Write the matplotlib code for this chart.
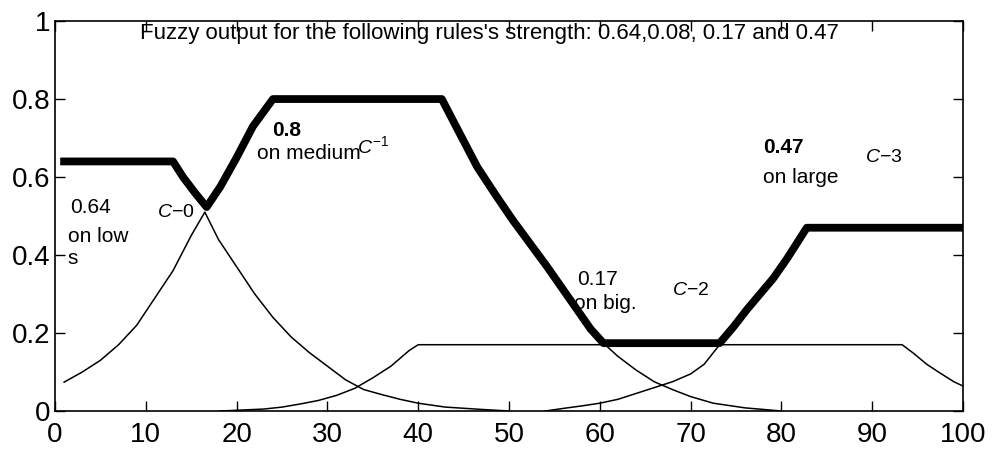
import matplotlib
matplotlib.use("Agg")
from matplotlib import pyplot as plt

plt.rcParams['font.family'] = ['Liberation Sans', 'DejaVu Sans']
plt.rcParams['mathtext.fontset'] = 'custom'
plt.rcParams['mathtext.it'] = 'Liberation Sans:italic'
plt.rcParams['mathtext.rm'] = 'Liberation Sans'

# aggregated fuzzy output (thick line)
out_x = [1, 13, 14.1, 15.4, 16.7, 18.2, 20, 21.8, 24, 42.6, 44.5, 46.5, 48.5,
         50.4, 52.3, 54.2, 56, 57.8, 59, 60.4, 73.2, 74.7, 76.2, 79.1, 80.6,
         82.8, 100]
out_y = [0.64, 0.64, 0.60, 0.56, 0.523, 0.575, 0.65, 0.73, 0.80, 0.80, 0.715,
         0.626, 0.555, 0.49, 0.43, 0.37, 0.31, 0.25, 0.21, 0.174, 0.174, 0.215,
         0.26, 0.34, 0.39, 0.47, 0.47]

# membership "low" (C-0)
low_x = [1, 3, 5, 7, 9, 11, 13, 15, 16.5, 18, 20, 22, 24, 26, 28, 30, 32, 34,
         36, 38, 40, 43, 47, 50]
low_y = [0.074, 0.10, 0.13, 0.17, 0.22, 0.29, 0.36, 0.45, 0.51, 0.44, 0.37,
         0.30, 0.24, 0.19, 0.15, 0.115, 0.08, 0.055, 0.042, 0.03, 0.02, 0.01,
         0.004, 0.0]

# membership clipped at 0.17 (trapezoid)
trap_x = [18.2, 23, 25, 27, 29, 31, 33, 35, 37, 39, 40, 93.3, 94.5, 96, 97.5,
          99, 100]
trap_y = [0.0, 0.005, 0.01, 0.018, 0.027, 0.04, 0.058, 0.085, 0.115, 0.155,
          0.17, 0.17, 0.149, 0.12, 0.097, 0.075, 0.064]

# tail of "big" (C-2)
big_x = [60.4, 62, 64, 66, 68, 70, 72.5, 76, 80]
big_y = [0.174, 0.14, 0.105, 0.075, 0.055, 0.037, 0.02, 0.008, 0.0]

# foot of "large" (C-3)
large_x = [54, 56.4, 58, 60, 62, 64, 66, 68, 70, 71.5, 73.2]
large_y = [0.0, 0.008, 0.013, 0.02, 0.03, 0.045, 0.06, 0.075, 0.095, 0.12, 0.17]

x_ticks = [0, 10, 20, 30, 40, 50, 60, 70, 80, 90, 100]
y_ticks = [0, 0.2, 0.4, 0.6, 0.8, 1]
y_labels = ['0', '0.2', '0.4', '0.6', '0.8', '1']

title = "Fuzzy output for the following rules's strength: 0.64,0.08, 0.17 and 0.47"

fig = plt.figure(figsize=(9.95, 4.55), dpi=100)
ax = fig.add_axes([0.0553, 0.0967, 0.9125, 0.857])

for cx, cy in [(low_x, low_y), (trap_x, trap_y), (big_x, big_y), (large_x, large_y)]:
    ax.plot(cx, cy, color='black', lw=1.1)
ax.plot(out_x, out_y, color='black', lw=5.6, solid_joinstyle='round')

ax.set_xlim(0, 100)
ax.set_ylim(0, 1)
ax.set_xticks(x_ticks)
ax.set_yticks(y_ticks)
ax.set_yticklabels(y_labels)
ax.tick_params(direction='in', length=7, width=1, top=True, right=True,
               labelsize=20)
ax.tick_params(axis='x', pad=8)
ax.tick_params(axis='y', pad=3)
for s in ax.spines.values():
    s.set_linewidth(1.2)

ax.text(9.4, 0.995, title, ha='left', va='top', fontsize=16)

fs = 15
ax.text(1.65, 0.523, '0.64', fontsize=fs, va='center')
ax.text(1.4, 0.447, 'on low', fontsize=fs, va='center')
ax.text(1.4, 0.39, 's', fontsize=fs, va='center')
ax.text(11.2, 0.508, r'$C$−0', fontsize=14, va='center')

ax.text(23.9, 0.72, '0.8', fontsize=fs, fontweight='bold', va='center')
ax.text(22.2, 0.66, 'on medium', fontsize=fs, va='center')
ax.text(33.3, 0.68, r'$C^{-1}$', fontsize=14, va='center')

ax.text(57.5, 0.336, '0.17', fontsize=fs, va='center')
ax.text(57.2, 0.275, 'on big.', fontsize=fs, va='center')
ax.text(68.0, 0.31, r'$C$−2', fontsize=14, va='center')

ax.text(78.0, 0.677, '0.47', fontsize=fs, fontweight='bold', va='center')
ax.text(78.0, 0.6, 'on large', fontsize=fs, va='center')
ax.text(89.2, 0.651, r'$C$−3', fontsize=14, va='center')

fig.savefig('out.png', dpi=100)
